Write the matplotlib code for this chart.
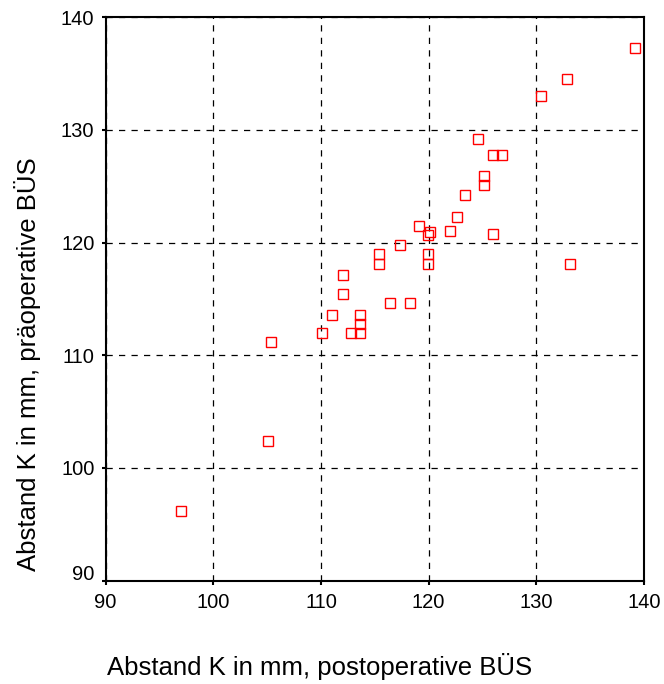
import matplotlib
matplotlib.use("Agg")
import matplotlib.pyplot as plt
import matplotlib.transforms as mtransforms

post = [97.0, 105.1, 105.4, 110.1, 111.0, 112.0, 112.0, 112.8, 113.6, 113.6, 113.6,
        115.4, 115.4, 116.4, 117.3, 118.3, 119.1, 119.9, 120.1, 119.9, 119.9,
        122.0, 122.6, 123.4, 124.6, 125.1, 125.1, 126.0, 126.8, 126.0,
        130.4, 132.8, 133.1, 139.2]
pre = [96.2, 102.4, 111.2, 112.0, 113.6, 117.1, 115.4, 112.0, 113.6, 112.8, 112.0,
       119.0, 118.1, 114.6, 119.8, 114.6, 121.5, 120.7, 120.9, 119.0, 118.1,
       121.0, 122.3, 124.2, 129.2, 125.9, 125.1, 127.75, 127.75, 120.8,
       133.0, 134.5, 118.1, 137.3]
ticks = [90, 100, 110, 120, 130, 140]

plt.rcParams['font.family'] = ['Liberation Sans', 'DejaVu Sans']
fig = plt.figure(figsize=(6.64, 6.84), dpi=100)
ax = fig.add_axes([0.159, 0.151, 0.811, 0.824])
ax.plot(post, pre, linestyle='none', marker='s', ms=7, mfc='none', mec='red', mew=1)
ax.set_xlim(90, 140)
ax.set_ylim(90, 140)
ax.set_xticks(ticks)
ax.set_yticks(ticks)
ax.grid(True, color='black', linestyle=(0, (5, 5)), linewidth=0.9)
for s in ax.spines.values():
    s.set_linewidth(1.5)
ax.tick_params(length=3, width=1.5, labelsize=14.5, direction='out')
ax.tick_params(axis='x', pad=6)
ax.tick_params(axis='y', pad=5)
# shift the lowest y tick label slightly up, as in the original
lbl = ax.get_yticklabels()[0]
lbl.set_transform(lbl.get_transform() + mtransforms.ScaledTranslation(0, 8 / 100, fig.dpi_scale_trans))
fig.text(0.481, 0.026, 'Abstand K in mm, postoperative BÜS', ha='center', va='center', fontsize=18.5)
fig.text(0.042, 0.468, 'Abstand K in mm, präoperative BÜS', ha='center', va='center',
         rotation=90, fontsize=18.5)
fig.savefig('out.png', dpi=100)
